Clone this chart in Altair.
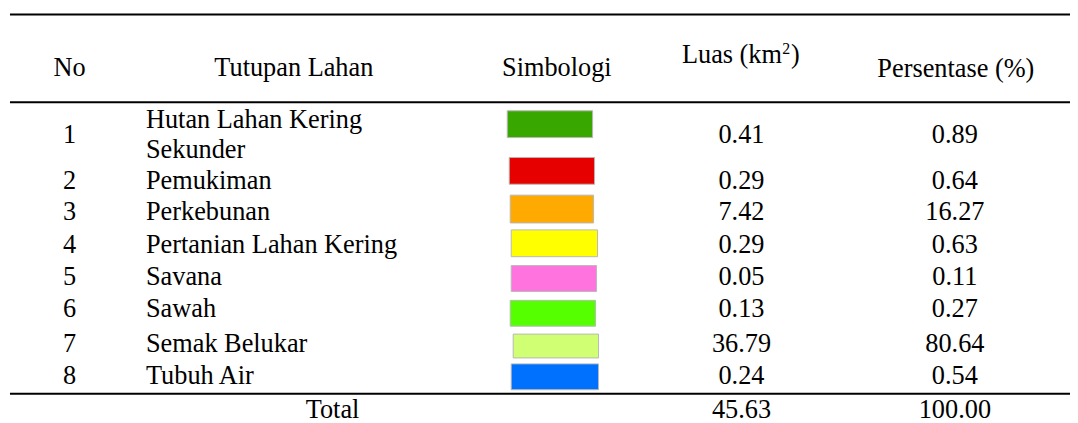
import altair as alt
import pandas as pd

# ---------------- data ----------------
nos = [1, 2, 3, 4, 5, 6, 7, 8]
land_cover = [
    "Hutan Lahan Kering\nSekunder",
    "Pemukiman",
    "Perkebunan",
    "Pertanian Lahan Kering",
    "Savana",
    "Sawah",
    "Semak Belukar",
    "Tubuh Air",
]
area_km2 = [0.41, 0.29, 7.42, 0.29, 0.05, 0.13, 36.79, 0.24]
percent = [0.89, 0.64, 16.27, 0.63, 0.11, 0.27, 80.64, 0.54]
symbol_colors = ["#38a800", "#e60000", "#ffaa00", "#ffff00",
                 "#ff73df", "#55ff00", "#d1ff73", "#0070ff"]
header_center = ["No", "Tutupan Lahan", "Simbologi", "Persentase (%)"]
header_luas = ["Luas (km", "2", ")"]
total_label = "Total"
total_area = 45.63
total_percent = 100.00

# ---------------- layout (page pixels) ----------------
W, H = 1070, 415
FONT = "Liberation Serif, Times New Roman, Times, serif"
FS = 26.5
LH = 31
col_no, col_name, col_luas, col_pct = 70, 147, 747, 962
header_x = [70, 296, 561, 963]
header_y = [67, 67, 67, 68]
luas_x = [687, 788, 797]
luas_y = [54, 48, 54]
row_y = [134.5, 181, 212, 245, 278, 310, 345, 377]
total_x = 335
total_y = 411.5
sw_left = [511, 513, 514, 515, 515, 514, 517, 515]
sw_right = [597, 599, 598, 602, 601, 600, 603, 603]
sw_top = [110, 157, 195, 230, 266, 301, 335, 365]
sw_bottom = [137, 184, 223, 257, 292, 327, 359, 391]
line_y = [13, 101.5, 395]

xs = alt.Scale(domain=[8, 8 + W], nice=False, zero=False)
ys = alt.Scale(domain=[8, 8 + H], nice=False, zero=False, reverse=True)

# ---------------- tables ----------------
lines_df = pd.DataFrame({"x": [10] * 3, "x2": [8 + W] * 3, "y": line_y})

sw_df = pd.DataFrame({
    "cls": land_cover, "x": sw_left, "x2": sw_right,
    "y": sw_top, "y2": sw_bottom,
})

center_rows = []
for t, x, y in zip(header_center, header_x, header_y):
    center_rows.append({"t": t, "x": x, "y": y})
for n, a, p, y in zip(nos, area_km2, percent, row_y):
    center_rows.append({"t": str(n), "x": col_no, "y": y})
    center_rows.append({"t": f"{a:.2f}", "x": col_luas, "y": y})
    center_rows.append({"t": f"{p:.2f}", "x": col_pct, "y": y})
center_rows.append({"t": total_label, "x": total_x, "y": total_y})
center_rows.append({"t": f"{total_area:.2f}", "x": col_luas, "y": total_y})
center_rows.append({"t": f"{total_percent:.2f}", "x": col_pct, "y": total_y})
center_df = pd.DataFrame(center_rows)

left_rows = []
for name, y in zip(land_cover, row_y):
    n_lines = name.count("\n") + 1
    left_rows.append({"t": name, "x": col_name, "y": y - (n_lines - 1) * LH / 2})
left_rows.append({"t": header_luas[0], "x": luas_x[0], "y": luas_y[0]})
left_rows.append({"t": header_luas[2], "x": luas_x[2], "y": luas_y[2]})
left_df = pd.DataFrame(left_rows)

sup_df = pd.DataFrame([{"t": header_luas[1], "x": luas_x[1], "y": luas_y[1]}])

X = alt.X("x:Q", scale=xs, axis=None)
Y = alt.Y("y:Q", scale=ys, axis=None)

rules = alt.Chart(lines_df).mark_rule(color="black", strokeWidth=2).encode(
    x=X, x2="x2:Q", y=Y
)

swatches = alt.Chart(sw_df).mark_rect(stroke="#b8b8b8", strokeWidth=1).encode(
    x=X, x2="x2:Q", y=Y, y2="y2:Q",
    color=alt.Color("cls:N", scale=alt.Scale(domain=land_cover, range=symbol_colors), legend=None),
)

center_text = alt.Chart(center_df).mark_text(
    font=FONT, fontSize=FS, color="black", align="center", baseline="middle"
).encode(x=X, y=Y, text="t:N")

left_text = alt.Chart(left_df).mark_text(
    font=FONT, fontSize=FS, color="black", align="left", baseline="middle",
    lineBreak="\n", lineHeight=LH
).encode(x=X, y=Y, text="t:N")

sup_text = alt.Chart(sup_df).mark_text(
    font=FONT, fontSize=16, color="black", align="left", baseline="middle"
).encode(x=X, y=Y, text="t:N")

chart = alt.layer(rules, swatches, center_text, left_text, sup_text).properties(
    width=W, height=H,
    autosize=alt.AutoSizeParams(type="none"),
    padding=0,
    background="white",
).configure_view(stroke=None)

chart.save("out.html", embed_options={"renderer": "svg", "actions": False})
